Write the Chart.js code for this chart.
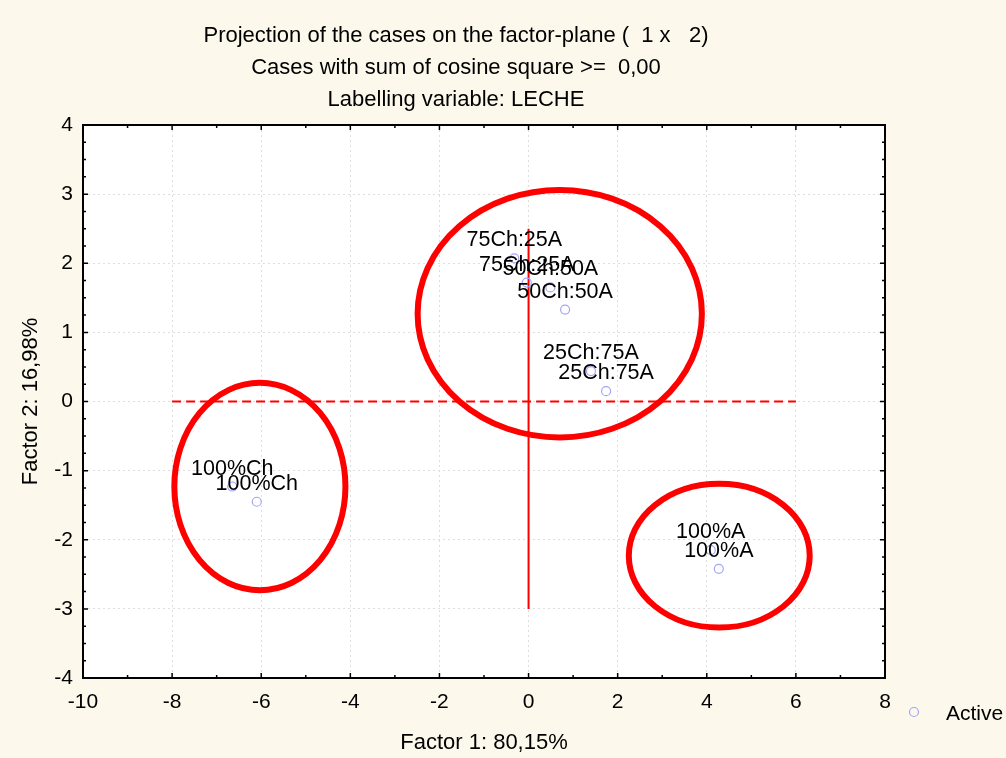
<!DOCTYPE html>
<html>
<head>
<meta charset="utf-8">
<script src="https://cdn.jsdelivr.net/npm/chart.js@4.4.0/dist/chart.umd.min.js"></script>
<style>
  body { margin: 0; background: #fdf8ec; }
  canvas { display: block; }
</style>
</head>
<body>
<canvas id="myChart" width="1006" height="758"></canvas>
<script>
const titleLines = [
  'Projection of the cases on the factor-plane (  1 x   2)',
  'Cases with sum of cosine square >=  0,00',
  'Labelling variable: LECHE'
];

const caseLabels = ['75Ch:25A', '75Ch:25A', '50Ch:50A', '50Ch:50A', '25Ch:75A', '25Ch:75A', '100%Ch', '100%Ch', '100%A', '100%A'];
const factor1 = [-0.32, -0.04, 0.49, 0.82, 1.40, 1.74, -6.65, -6.10, 4.09, 4.27];
const factor2 = [2.07, 1.72, 1.65, 1.33, 0.44, 0.15, -1.23, -1.45, -2.15, -2.42];

// red reference lines
const vLineX = [0, 0];
const vLineY = [2.5, -3];
const hLineX = [-8, 6];
const hLineY = [0, 0];

// red ellipses drawn over the plot (data units)
const ellipseCx = [-6.03, 0.70, 4.28];
const ellipseCy = [-1.23, 1.27, -2.23];
const ellipseRx = [1.92, 3.19, 2.03];
const ellipseRy = [1.50, 1.79, 1.04];

const FONT = '"Liberation Sans", Arial, sans-serif';
const pointColor = '#a4a4f6';

const ctx = document.getElementById('myChart').getContext('2d');

const frame = {
  id: 'frame',
  beforeDraw(chart) {
    const {ctx, chartArea: a} = chart;
    ctx.save();
    ctx.fillStyle = '#ffffff';
    ctx.fillRect(a.left, a.top, a.right - a.left, a.bottom - a.top);
    ctx.restore();
  },
  afterDraw(chart) {
    const {ctx, chartArea: a, scales: {x, y}} = chart;
    ctx.save();
    // titles
    ctx.fillStyle = '#000';
    ctx.font = '22px ' + FONT;
    ctx.textAlign = 'center';
    ctx.textBaseline = 'middle';
    const titleY = [36, 68, 100];
    titleLines.forEach((t, i) => ctx.fillText(t, 456, titleY[i]));

    // inward tick marks
    ctx.strokeStyle = '#000';
    ctx.lineWidth = 1.5;
    ctx.beginPath();
    for (let v = x.min; v <= x.max; v += 1) {
      const px = x.getPixelForValue(v);
      const len = (v % 2 === 0) ? 5 : 3;
      ctx.moveTo(px, a.top); ctx.lineTo(px, a.top + len);
      ctx.moveTo(px, a.bottom); ctx.lineTo(px, a.bottom - len);
    }
    for (let v = y.min; v <= y.max; v += 0.25) {
      const py = y.getPixelForValue(v);
      const len = Number.isInteger(v) ? 5 : 3;
      ctx.moveTo(a.left, py); ctx.lineTo(a.left + len, py);
      ctx.moveTo(a.right, py); ctx.lineTo(a.right - len, py);
    }
    ctx.stroke();

    // frame
    ctx.lineWidth = 2;
    ctx.strokeRect(a.left, a.top, a.right - a.left, a.bottom - a.top);

    // legend
    ctx.strokeStyle = pointColor;
    ctx.lineWidth = 1.2;
    ctx.beginPath();
    ctx.arc(914, 712, 4.5, 0, Math.PI * 2);
    ctx.stroke();
    ctx.fillStyle = '#000';
    ctx.font = '21px ' + FONT;
    ctx.textAlign = 'left';
    ctx.fillText('Active', 946, 714);
    ctx.restore();
  }
};

const pointLabels = {
  id: 'pointLabels',
  afterDatasetsDraw(chart) {
    const {ctx} = chart;
    const meta = chart.getDatasetMeta(0);
    ctx.save();
    ctx.fillStyle = '#000';
    ctx.font = '21.5px ' + FONT;
    ctx.textAlign = 'center';
    ctx.textBaseline = 'alphabetic';
    meta.data.forEach((pt, i) => {
      ctx.fillText(caseLabels[i], pt.x, pt.y - 12);
    });
    // ellipses
    const {x, y} = chart.scales;
    ctx.strokeStyle = '#ff0000';
    ctx.lineWidth = 6;
    ellipseCx.forEach((cx, i) => {
      const px = x.getPixelForValue(cx);
      const py = y.getPixelForValue(ellipseCy[i]);
      const rx = Math.abs(x.getPixelForValue(cx + ellipseRx[i]) - px);
      const ry = Math.abs(y.getPixelForValue(ellipseCy[i] + ellipseRy[i]) - py);
      ctx.beginPath();
      ctx.ellipse(px, py, rx, ry, 0, 0, Math.PI * 2);
      ctx.stroke();
    });
    ctx.restore();
  }
};

new Chart(ctx, {
  type: 'scatter',
  data: {
    datasets: [
      {
        label: 'Active',
        data: factor1.map((v, i) => ({x: v, y: factor2[i]})),
        pointStyle: 'circle',
        pointRadius: 4.5,
        pointBorderWidth: 1.2,
        borderColor: pointColor,
        backgroundColor: 'rgba(0,0,0,0)',
        order: 1
      },
      {
        type: 'line',
        label: 'vline',
        data: vLineX.map((v, i) => ({x: v, y: vLineY[i]})),
        borderColor: '#ff0000',
        borderWidth: 2,
        pointRadius: 0,
        showLine: true,
        order: 2
      },
      {
        type: 'line',
        label: 'hline',
        data: hLineX.map((v, i) => ({x: v, y: hLineY[i]})),
        borderColor: '#ff0000',
        borderWidth: 2,
        borderDash: [9, 5],
        pointRadius: 0,
        showLine: true,
        order: 2
      }
    ]
  },
  options: {
    responsive: false,
    animation: false,
    layout: {padding: {top: 125, right: 121, left: 0, bottom: 0}},
    plugins: {
      legend: {display: false},
      title: {display: false},
      tooltip: {enabled: false}
    },
    scales: {
      x: {
        type: 'linear',
        min: -10,
        max: 8,
        ticks: {stepSize: 2, padding: 12, color: '#000', font: {family: FONT, size: 21}},
        grid: {color: '#dedede', lineWidth: 1, drawTicks: false},
        border: {display: false, dash: [2, 3]},
        title: {display: true, text: 'Factor 1: 80,15%', color: '#000', font: {family: FONT, size: 22}, padding: {top: 0, bottom: 2}},
        afterFit: (s) => { s.height = 80; }
      },
      y: {
        type: 'linear',
        min: -4,
        max: 4,
        ticks: {stepSize: 1, padding: 10, color: '#000', font: {family: FONT, size: 21}},
        grid: {color: '#dedede', lineWidth: 1, drawTicks: false},
        border: {display: false, dash: [2, 3]},
        title: {display: true, text: 'Factor 2: 16,98%', color: '#000', font: {family: FONT, size: 22}, padding: {top: 18, bottom: 0}},
        afterFit: (s) => { s.width = 83; }
      }
    }
  },
  plugins: [frame, pointLabels]
});
</script>
</body>
</html>
